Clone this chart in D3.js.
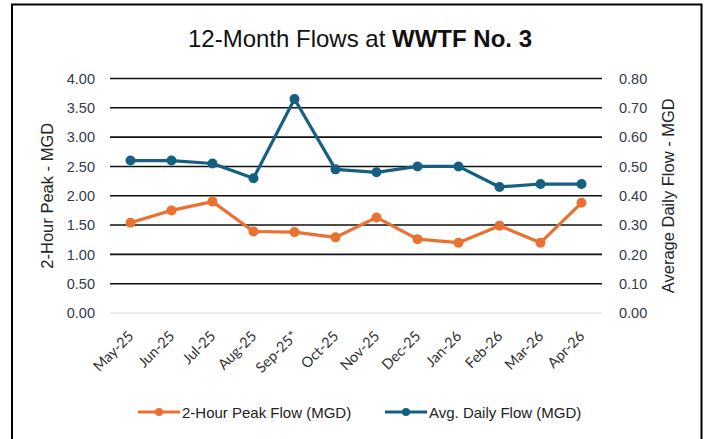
<!DOCTYPE html>
<html><head><meta charset="utf-8">
<script src="https://cdn.jsdelivr.net/npm/d3@7"></script>
<style>
html,body{margin:0;padding:0;background:#fff;}
svg{display:block;}
</style></head>
<body>
<svg id="chart" width="704" height="439"></svg>
<script>
const categories = ["May-25","Jun-25","Jul-25","Aug-25","Sep-25*","Oct-25","Nov-25","Dec-25","Jan-26","Feb-26","Mar-26","Apr-26"];
const peakFlow = [1.54,1.75,1.90,1.39,1.38,1.29,1.63,1.26,1.20,1.49,1.20,1.88];
const avgDailyFlow = [0.52,0.52,0.51,0.46,0.73,0.49,0.48,0.50,0.50,0.43,0.44,0.44];
const leftTicks = [0,0.5,1,1.5,2,2.5,3,3.5,4];
const rightTicks = [0,0.1,0.2,0.3,0.4,0.5,0.6,0.7,0.8];
const seriesNames = ["2-Hour Peak Flow (MGD)","Avg. Daily Flow (MGD)"];
const colors = ["#E97132","#156082"];

const svg = d3.select("#chart");
const plot = {left:110, right:602, top:78.5, bottom:313};

// border
svg.append("rect").attr("x",12).attr("y",4.5).attr("width",689.5).attr("height",440)
  .attr("fill","#fff").attr("stroke","#000").attr("stroke-width",2);

const x = d3.scaleBand().domain(categories).range([plot.left, plot.right]);
const yL = d3.scaleLinear().domain([0,4]).range([plot.bottom, plot.top]);
const yR = d3.scaleLinear().domain([0,0.8]).range([plot.bottom, plot.top]);

// gridlines
const grid = svg.append("g");
grid.selectAll("line").data(leftTicks).join("line")
  .attr("x1",plot.left).attr("x2",plot.right)
  .attr("y1",d=>yL(d)).attr("y2",d=>yL(d))
  .attr("stroke",d=>d===0?"#d9d9d9":"#111").attr("stroke-width",d=>d===0?1:1.6);

// left axis
const axL = svg.append("g").attr("transform",`translate(${plot.left-15},0)`)
  .call(d3.axisLeft(yL).tickValues(leftTicks).tickFormat(d3.format(".2f")).tickSize(0).tickPadding(0));
axL.select(".domain").remove();
axL.selectAll("text").attr("font-family","Liberation Sans, Arial, sans-serif").attr("font-size",14.5).attr("fill","#333a4d");

// right axis
const axR = svg.append("g").attr("transform",`translate(${plot.right+17},0)`)
  .call(d3.axisRight(yR).tickValues(rightTicks).tickFormat(d3.format(".2f")).tickSize(0).tickPadding(0));
axR.select(".domain").remove();
axR.selectAll("text").attr("font-family","Liberation Sans, Arial, sans-serif").attr("font-size",14.5).attr("fill","#333a4d");

// x axis labels
const axX = svg.append("g").attr("transform",`translate(0,${plot.bottom})`)
  .call(d3.axisBottom(x).tickSize(0).tickPadding(0));
axX.select(".domain").remove();
axX.selectAll("text")
  .attr("font-family","Lato, Carlito, sans-serif").attr("font-size",14.5).attr("fill","#333")
  .attr("text-anchor","end").attr("dy",0)
  .attr("transform","translate(4,24) rotate(-45)");

// axis titles
svg.append("text").attr("transform",`translate(53,${(plot.top+plot.bottom)/2}) rotate(-90)`)
  .attr("text-anchor","middle").attr("font-family","Liberation Sans, Arial, sans-serif")
  .attr("font-size",16.5).attr("fill","#262626").text("2-Hour Peak - MGD");
svg.append("text").attr("transform",`translate(674,${(plot.top+plot.bottom)/2}) rotate(-90)`)
  .attr("text-anchor","middle").attr("font-family","Liberation Sans, Arial, sans-serif")
  .attr("font-size",16.5).attr("fill","#262626").text("Average  Daily Flow - MGD");

// lines
const cx = (i)=>x(categories[i])+x.bandwidth()/2;
const lineL = d3.line().x((d,i)=>cx(i)).y(d=>yL(d));
const lineR = d3.line().x((d,i)=>cx(i)).y(d=>yR(d));
svg.append("path").datum(peakFlow).attr("d",lineL).attr("fill","none")
  .attr("stroke",colors[0]).attr("stroke-width",3.2).attr("stroke-linejoin","round");
svg.append("g").selectAll("circle").data(peakFlow).join("circle")
  .attr("cx",(d,i)=>cx(i)).attr("cy",d=>yL(d)).attr("r",5).attr("fill",colors[0]);
svg.append("path").datum(avgDailyFlow).attr("d",lineR).attr("fill","none")
  .attr("stroke",colors[1]).attr("stroke-width",3.2).attr("stroke-linejoin","round");
svg.append("g").selectAll("circle").data(avgDailyFlow).join("circle")
  .attr("cx",(d,i)=>cx(i)).attr("cy",d=>yR(d)).attr("r",5).attr("fill",colors[1]);

// title
const title = svg.append("text").attr("x",360).attr("y",47).attr("text-anchor","middle")
  .attr("font-family","Liberation Sans Narrow, Liberation Sans, Arial, sans-serif").attr("font-size",24).attr("fill","#111");
title.append("tspan").text("12-Month Flows at ");
title.append("tspan").attr("font-weight","bold").text("WWTF No. 3");

// legend
const legX = [138, 385];
const lg = svg.append("g");
seriesNames.forEach((name,i)=>{
  const g = lg.append("g").attr("transform",`translate(${legX[i]},412)`);
  g.append("line").attr("x1",0).attr("x2",42).attr("y1",0).attr("y2",0).attr("stroke",colors[i]).attr("stroke-width",3);
  g.append("circle").attr("cx",21).attr("cy",0).attr("r",4).attr("fill",colors[i]);
  g.append("text").attr("x",44).attr("y",5.5).attr("font-family","Liberation Sans Narrow, Liberation Sans, Arial, sans-serif")
    .attr("font-size",15).attr("fill","#222").text(name);
});
</script>
</body></html>
